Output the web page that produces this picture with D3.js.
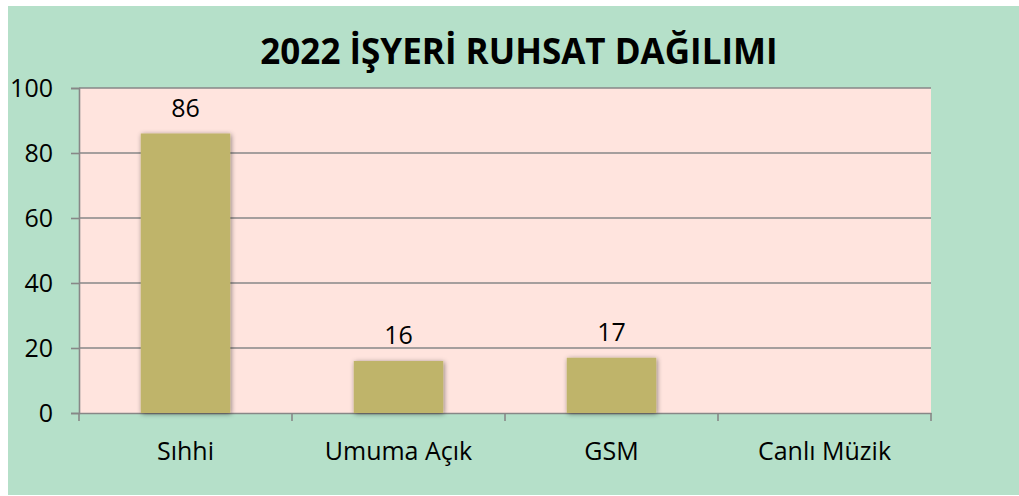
<!DOCTYPE html>
<html>
<head>
<meta charset="utf-8">
<script src="https://cdn.jsdelivr.net/npm/d3@7"></script>
<style>
html,body{margin:0;padding:0;background:#fff;}
svg{display:block;}
text{font-family:"Open Sans",sans-serif;}
</style>
</head>
<body>
<svg id="chart" width="1019" height="496"></svg>
<script>
const categories = ["Sıhhi", "Umuma Açık", "GSM", "Canlı Müzik"];
const values = [86, 16, 17, null];
const yTicks = [0, 20, 40, 60, 80, 100];
const title = "2022 İŞYERİ RUHSAT DAĞILIMI";

const svg = d3.select("#chart");
const W = 1019, H = 496;
const m = {left: 79, right: 88, top: 88, bottom: 83};
const FS = 25;

svg.append("rect").attr("x", 8).attr("y", 6).attr("width", W - 8).attr("height", H - 7).attr("fill", "#b5e0c9");

const x = d3.scaleBand().domain(categories).range([m.left, W - m.right]).paddingInner(0.58).paddingOuter(0.29);
const y = d3.scaleLinear().domain([0, 100]).range([H - m.bottom, m.top]);

const defs = svg.append("defs");
const f = defs.append("filter").attr("id", "sh").attr("x", "-20%").attr("y", "-20%").attr("width", "140%").attr("height", "140%");
f.append("feDropShadow").attr("dx", 1).attr("dy", 1).attr("stdDeviation", 2.5).attr("flood-color", "#000").attr("flood-opacity", 0.45);

svg.append("rect").attr("x", m.left).attr("y", m.top).attr("width", W - m.right - m.left).attr("height", y(0) - m.top).attr("fill", "#ffe4de");

// gridlines
svg.append("g").selectAll("line").data(yTicks.filter(d => d > 0)).join("line")
  .attr("x1", m.left).attr("x2", W - m.right).attr("y1", d => y(d)).attr("y2", d => y(d))
  .attr("stroke", "#878787").attr("stroke-width", 1.6);

// y axis
const ya = svg.append("g").attr("transform", `translate(${m.left},0)`)
  .call(d3.axisLeft(y).tickValues(yTicks).tickSize(8).tickPadding(18));
ya.select(".domain").attr("stroke", "#878787").attr("stroke-width", 1.6);
ya.selectAll(".tick line").attr("stroke", "#878787").attr("stroke-width", 1.6);
ya.selectAll(".tick text").attr("font-size", FS).attr("fill", "#000").style("font-family", '"Open Sans",sans-serif');

// x axis
const xa = svg.append("g").attr("transform", `translate(0,${y(0)})`)
  .call(d3.axisBottom(x).tickSize(0).tickPadding(29));
xa.select(".domain").attr("stroke", "#878787").attr("stroke-width", 1.6);
xa.selectAll(".tick text").attr("font-size", FS).attr("fill", "#000").style("font-family", '"Open Sans",sans-serif');
const edges = d3.range(categories.length + 1).map(i => m.left + i * (W - m.right - m.left) / categories.length);
xa.append("g").selectAll("line").data(edges).join("line")
  .attr("x1", d => d).attr("x2", d => d).attr("y1", 0).attr("y2", 8)
  .attr("stroke", "#878787").attr("stroke-width", 1.6);

const data = categories.map((c, i) => ({c, v: values[i]})).filter(d => d.v != null);
svg.append("g").selectAll("rect").data(data).join("rect")
  .attr("x", d => x(d.c)).attr("width", x.bandwidth())
  .attr("y", d => y(d.v)).attr("height", d => y(0) - y(d.v))
  .attr("fill", "#bfb46a").attr("filter", "url(#sh)");

svg.append("g").selectAll("text").data(data).join("text")
  .attr("x", d => x(d.c) + x.bandwidth() / 2).attr("y", d => y(d.v) - 17)
  .attr("text-anchor", "middle").attr("font-size", FS).attr("fill", "#000")
  .style("font-family", '"Open Sans",sans-serif')
  .text(d => d.v);

svg.append("text").attr("x", 519).attr("y", 64).attr("text-anchor", "middle")
  .attr("font-size", 35).attr("font-weight", "bold").attr("fill", "#000")
  .style("font-family", '"Open Sans",sans-serif')
  .text(title);
</script>
</body>
</html>
